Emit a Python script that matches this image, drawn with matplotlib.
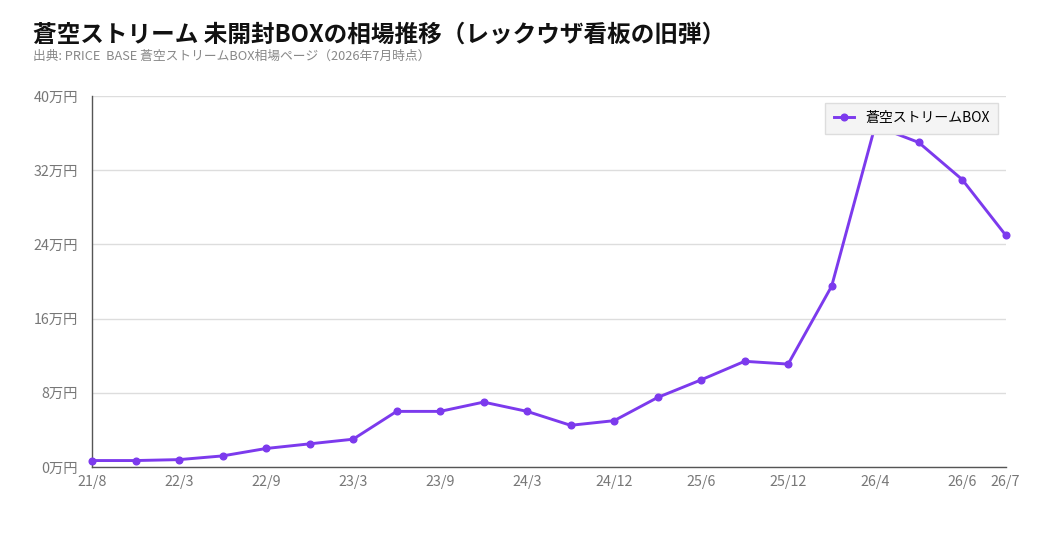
import matplotlib
matplotlib.use("Agg")
from matplotlib import pyplot as plt

plt.rcParams['font.family'] = ['Noto Sans CJK JP', 'DejaVu Sans']

# monthly labels (only some are shown on the axis)
months = ['21/8', '21/12', '22/3', '22/6', '22/9', '22/12', '23/3', '23/6',
          '23/9', '23/12', '24/3', '24/8', '24/12', '25/3', '25/6', '25/9',
          '25/12', '26/2', '26/4', '26/5', '26/6', '26/7']
prices = [0.7, 0.7, 0.8, 1.2, 2.0, 2.5, 3.0, 6.0, 6.0, 7.0, 6.0, 4.5,
          5.0, 7.5, 9.4, 11.4, 11.1, 19.5, 36.8, 35.0, 31.0, 25.0]  # 万円
shown = [0, 2, 4, 6, 8, 10, 12, 14, 16, 18, 20, 21]
yticks = [0, 8, 16, 24, 32, 40]

purple = '#7c3aed'

fig = plt.figure(figsize=(10.4, 5.6), dpi=100)
ax = fig.add_axes([0.0885, 0.166, 0.8785, 0.6625])

x = list(range(len(months)))
ax.plot(x, prices, color=purple, lw=2.1, marker='o', ms=4.8,
        label='蒼空ストリームBOX', zorder=3, clip_on=False)

ax.set_xlim(0, len(months) - 1)
ax.set_ylim(0, 40)
ax.set_xticks(shown)
ax.set_xticklabels([months[i] for i in shown])
ax.set_yticks(yticks)
ax.set_yticklabels([f'{v}万円' for v in yticks])
ax.tick_params(length=0, labelsize=10.3, colors='#777777', pad=6)
ax.tick_params(axis='y', pad=10)
ax.grid(axis='y', color='#dddddd', lw=1)
ax.set_axisbelow(True)
for s in ['top', 'right']:
    ax.spines[s].set_visible(False)
for s in ['left', 'bottom']:
    ax.spines[s].set_color('#555555')
    ax.spines[s].set_linewidth(1)

leg = ax.legend(loc='upper right', bbox_to_anchor=(0.9995, 1.0), fontsize=10,
                frameon=True, fancybox=False, handlelength=1.5,
                borderpad=0.6)
leg.get_frame().set_facecolor('#f4f4f4')
leg.get_frame().set_edgecolor('#dddddd')
leg.get_frame().set_alpha(1)
leg.set_zorder(5)

fig.text(0.032, 0.939, '蒼空ストリーム 未開封BOXの相場推移（レックウザ看板の旧弾）',
         fontsize=17, fontweight='bold', color='#111111', va='center')
fig.text(0.032, 0.899, '出典: PRICE  BASE 蒼空ストリームBOX相場ページ（2026年7月時点）',
         fontsize=9.2, color='#888888', va='center')

fig.savefig('out.png', dpi=100)
